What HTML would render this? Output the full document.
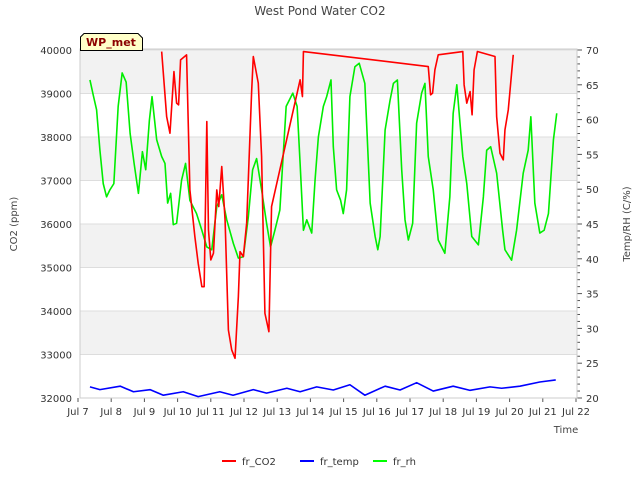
<!DOCTYPE html>
<html><head><meta charset="utf-8"><style>
body{margin:0;background:#fff;}
svg{font-family:"DejaVu Sans","Liberation Sans",sans-serif;}
</style></head><body>
<svg id="chart" width="640" height="480">
<text x="320" y="15" text-anchor="middle" font-size="12" fill="#444">West Pond Water CO2</text>
<g id="bands"></g><g id="grid"></g><g id="axes"></g>
<g id="series" clip-path="url(#clip)"></g>
<defs><clipPath id="clip"><rect x="80" y="49" width="497" height="350"/></clipPath></defs>
<rect x="80" y="49" width="497" height="349" fill="none" stroke="#ccc"/>
<g>
<path d="M80.5,50.5 L80.5,37 L84,33.5 L138,33.5 L142.5,38 L142.5,50.5 Z" fill="#ffffc8" stroke="#000"/>
<text x="111" y="46" text-anchor="middle" font-size="11" font-weight="bold" fill="#8b0000">WP_met</text></g>
<text x="566" y="433" text-anchor="middle" font-size="10" fill="#444">Time</text>
<text transform="translate(17,224) rotate(-90)" text-anchor="middle" font-size="10" fill="#444">CO2 (ppm)</text>
<text transform="translate(630,224) rotate(-90)" text-anchor="middle" font-size="10" fill="#444">Temp/RH (C/%)</text>
<g>
<g><line x1="222" y1="461" x2="236" y2="461" stroke="#f00" stroke-width="2"/><text x="242" y="465" font-size="10" fill="#333">fr_CO2</text></g>
<g><line x1="300" y1="461" x2="314" y2="461" stroke="#00f" stroke-width="2"/><text x="320" y="465" font-size="10" fill="#333">fr_temp</text></g>
<g><line x1="373" y1="461" x2="387" y2="461" stroke="#0f0" stroke-width="2"/><text x="393" y="465" font-size="10" fill="#333">fr_rh</text></g>
</g>
</svg>
<script>
const xTickLabels=["Jul 7","Jul 8","Jul 9","Jul 10","Jul 11","Jul 12","Jul 13","Jul 14","Jul 15","Jul 16","Jul 17","Jul 18","Jul 19","Jul 20","Jul 21","Jul 22"];
const leftTicks=[32000,33000,34000,35000,36000,37000,38000,39000,40000];
const rightTicks=[20,25,30,35,40,45,50,55,60,65,70];
const co2Days=[2.52,2.57,2.67,2.77,2.89,2.97,3.03,3.09,3.27,3.37,3.52,3.62,3.73,3.80,3.88,3.93,4.0,4.08,4.18,4.24,4.33,4.43,4.53,4.63,4.73,4.83,4.88,4.98,5.08,5.23,5.28,5.43,5.53,5.63,5.75,5.83,6.69,6.76,6.79,10.55,10.62,10.68,10.75,10.85,11.59,11.63,11.71,11.81,11.87,11.93,12.03,12.56,12.61,12.71,12.81,12.86,12.96,13.11];
const co2Vals=[39965,39468,38470,38088,39505,38778,38739,39774,39889,36784,35710,35098,34560,34560,38355,35864,35174,35328,36784,36400,37320,36094,33564,33104,32913,34330,35365,35250,36018,39045,39850,39238,37550,33948,33525,36400,39314,38930,39965,39620,38969,39008,39544,39889,39965,39199,38778,39045,38509,39544,39965,39850,38470,37627,37474,38164,38624,39889];
const rhDays=[0.36,0.46,0.56,0.66,0.76,0.86,0.96,1.08,1.21,1.33,1.45,1.57,1.69,1.82,1.94,2.04,2.15,2.23,2.37,2.52,2.62,2.70,2.79,2.87,2.97,3.12,3.24,3.37,3.57,3.73,3.88,4.03,4.18,4.33,4.48,4.68,4.83,4.98,5.13,5.26,5.38,5.53,5.68,5.80,5.93,6.08,6.27,6.47,6.60,6.69,6.79,6.89,7.04,7.14,7.24,7.39,7.49,7.62,7.69,7.79,7.91,7.99,8.09,8.19,8.34,8.47,8.64,8.80,8.95,9.03,9.10,9.25,9.40,9.50,9.62,9.75,9.85,9.95,10.08,10.20,10.35,10.45,10.55,10.70,10.85,11.05,11.20,11.30,11.41,11.59,11.71,11.86,12.06,12.21,12.31,12.43,12.61,12.79,12.86,13.06,13.21,13.41,13.56,13.64,13.76,13.91,14.04,14.17,14.32,14.42];
const rhVals=[65.7,63.5,61.4,55.6,50.8,48.9,49.9,50.8,61.9,66.7,65.4,58.0,53.7,49.4,55.4,52.8,59.9,63.3,57.1,54.7,53.7,48.0,49.4,44.9,45.1,51.3,53.7,48.4,46.5,44.1,41.7,41.3,47.5,49.2,45.6,42.2,40.1,40.3,46.0,52.8,54.4,49.9,45.1,41.7,44.1,47.0,61.9,63.8,61.9,53.7,44.1,45.6,43.7,51.3,57.5,61.9,63.3,65.7,56.1,49.9,48.4,46.5,49.9,63.3,67.6,68.1,65.2,48.0,43.2,41.3,43.2,58.5,62.8,65.2,65.7,52.8,45.6,42.7,45.1,59.5,63.8,65.2,54.7,49.9,42.7,40.8,48.9,60.9,65.0,54.7,50.8,43.2,42.0,48.9,55.6,56.1,52.3,44.1,41.3,39.8,44.1,52.3,55.6,60.4,48.0,43.7,44.1,46.5,57.1,60.9];
const tempDays=[0.36,0.66,1.27,1.67,2.17,2.57,3.17,3.62,4.27,4.67,5.28,5.68,6.29,6.69,7.19,7.69,8.19,8.64,9.25,9.7,10.2,10.7,11.3,11.81,12.41,12.76,13.31,13.91,14.39];
const tempVals=[21.6,21.2,21.7,20.9,21.2,20.4,20.9,20.2,20.9,20.4,21.2,20.7,21.4,20.9,21.6,21.15,21.9,20.4,21.7,21.15,22.2,21.0,21.7,21.1,21.6,21.4,21.7,22.3,22.6];

const NS="http://www.w3.org/2000/svg";
const X=d=>78+d*33.2;
const YL=v=>398-(v-32000)*0.0435;
const YR=v=>398-(v-20)*6.96;
function mk(t,a,p){const e=document.createElementNS(NS,t);for(const k in a)e.setAttribute(k,a[k]);p.appendChild(e);return e;}
const bands=document.getElementById('bands'),grid=document.getElementById('grid'),axes=document.getElementById('axes'),series=document.getElementById('series');
for(let i=0;i<leftTicks.length-1;i++){
  if(i%2===1){const r=mk('rect',{x:80,y:YL(leftTicks[i+1]),width:497,height:YL(leftTicks[i])-YL(leftTicks[i+1]),fill:'#f2f2f2'},bands);
  
  }
}
leftTicks.forEach(v=>{
  const l=mk('line',{x1:80,x2:577,y1:YL(v),y2:YL(v),stroke:'#ddd'},grid);
  
  
  const t=mk('text',{x:72,y:YL(v)+4,'text-anchor':'end','font-size':10,fill:'#333'},axes);t.textContent=v;
  
  
});
for(let v=20;v<=70;v++){
  const major=v%5===0;
  mk('line',{x1:577,x2:major?582:580,y1:YR(v),y2:YR(v),stroke:'#555'},axes);
}
rightTicks.forEach(v=>{
  const t=mk('text',{x:586,y:YR(v)+4,'font-size':10,fill:'#333'},axes);t.textContent=v;
  
  
});
xTickLabels.forEach((s,i)=>{
  mk('line',{x1:X(i),x2:X(i),y1:398,y2:402,stroke:'#555'},axes);
  const t=mk('text',{x:X(i),y:415,'text-anchor':'middle','font-size':10,fill:'#333'},axes);t.textContent=s;
  
  
});
function line(days,vals,yf,color,name){
  const p=mk('polyline',{points:days.map((d,i)=>X(d)+','+yf(vals[i])).join(' '),fill:'none',stroke:color,'stroke-width':1.6,'stroke-linejoin':'round'},series);
  
  
}
line(tempDays,tempVals,YR,'#0000ff','fr-temp-line');
line(rhDays,rhVals,YR,'#00ee00','fr-rh-line');
line(co2Days,co2Vals,YL,'#ff0000','fr-co2-line');
</script>
</body></html>
